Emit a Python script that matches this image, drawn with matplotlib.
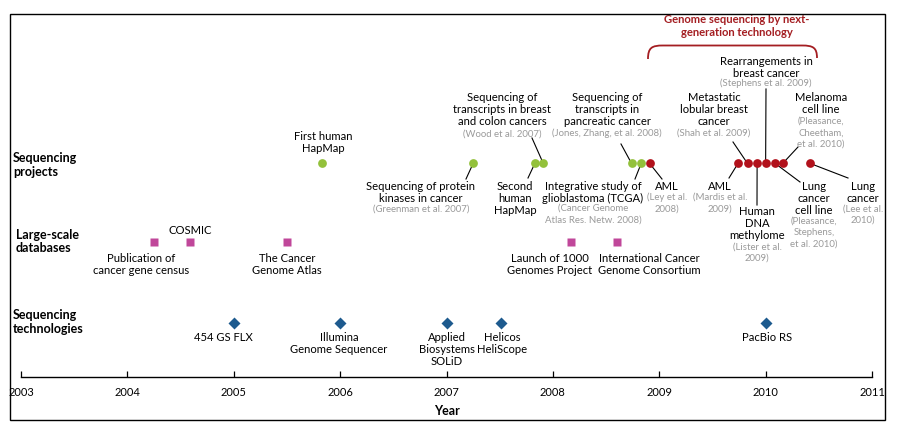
import matplotlib
matplotlib.use("Agg")
import matplotlib.pyplot as plt
from matplotlib.patches import Rectangle
from matplotlib.path import Path
from matplotlib.patches import PathPatch

plt.rcParams['font.family'] = ['Lato', 'DejaVu Sans']

# ---------------- data ----------------
years = [2003, 2004, 2005, 2006, 2007, 2008, 2009, 2010, 2011]

project_dates = [2005.83, 2007.25, 2007.83, 2007.91, 2008.74, 2008.83, 2008.91,
                 2009.74, 2009.83, 2009.92, 2010.00, 2010.09, 2010.16, 2010.42]
project_ngs = [False, False, False, False, False, False, True,
               True, True, True, True, True, True, True]
project_labels = ["First human\nHapMap",
                  "Sequencing of protein\nkinases in cancer",
                  "Second\nhuman\nHapMap",
                  "Sequencing of\ntranscripts in breast\nand colon cancers",
                  "Sequencing of\ntranscripts in\npancreatic cancer",
                  "Integrative study of\nglioblastoma (TCGA)",
                  "AML",
                  "AML",
                  "Metastatic\nlobular breast\ncancer",
                  "Human\nDNA\nmethylome",
                  "Rearrangements in\nbreast cancer",
                  "Lung\ncancer\ncell line",
                  "Melanoma\ncell line",
                  "Lung\ncancer"]
project_cites = ["",
                 "(Greenman et al. 2007)",
                 "",
                 "(Wood et al. 2007)",
                 "(Jones, Zhang, et al. 2008)",
                 "(Cancer Genome\nAtlas Res. Netw. 2008)",
                 "(Ley et al.\n2008)",
                 "(Mardis et al.\n2009)",
                 "(Shah et al. 2009)",
                 "(Lister et al.\n2009)",
                 "(Stephens et al. 2009)",
                 "(Pleasance,\nStephens,\net al. 2010)",
                 "(Pleasance,\nCheetham,\net al. 2010)",
                 "(Lee et al.\n2010)"]

db_dates = [2004.25, 2004.59, 2005.50, 2008.17, 2008.60]
db_labels = ["Publication of\ncancer gene census", "COSMIC", "The Cancer\nGenome Atlas",
             "Launch of 1000\nGenomes Project", "International Cancer\nGenome Consortium"]

tech_dates = [2005.0, 2006.0, 2007.0, 2007.51, 2010.0]
tech_labels = ["454 GS FLX", "Illumina\nGenome Sequencer", "Applied\nBiosystems\nSOLiD",
               "Helicos\nHeliScope", "PacBio RS"]

row_labels = ["Sequencing\nprojects", "Large-scale\ndatabases", "Sequencing\ntechnologies"]
bracket_title = "Genome sequencing by next-\ngeneration technology"

# ---------------- layout (pixel units) ----------------
W, H = 906, 436
X0PX, X1PX = 21, 872
PPY = (X1PX - X0PX) / (years[-1] - years[0])
ROW_Y = {"proj": 163.5, "db": 242, "tech": 323}

GREEN = "#93c13b"
RED = "#b2121c"
MAG = "#c0479a"
BLUE = "#1d5a8e"
GRAY = "#9a9a9a"
TITLE_RED = "#a41e22"

FS_MAIN = 8.1
FS_CITE = 6.9

def yr(px):
    return years[0] + (px - X0PX) / PPY

# label layout for projects: (label x px, first label line y, cite first line y, leader end (x,y) or None)
proj_layout = [
    (323, 136, None, None),
    (421, 186, 209, (466, 179)),
    (515, 186, None, (528, 178)),
    (502, 97, 134, (532, 138)),
    (607, 97, 133, (621, 144)),
    (593, 186, 208.5, (635, 179)),
    (667, 186, 197.5, (662, 179)),
    (720, 186, 197.5, (729, 178)),
    (714, 97, 133, (733, 142)),
    (757, 211, 247, (757, 205)),
    (766, 61.5, 83.5, (766, 89)),
    (814, 186, 221.5, (800, 182)),
    (821, 97, 121.5, (798, 147)),
    (863, 186, 209, (848, 178)),
]
db_layout = [(141, 258), (190, 230), (287, 258), (550, 258), (649, 258)]
tech_layout = [(223, 337), (339, 337), (447, 337), (502, 337), (767, 337)]

LS_MAIN = 12.3
LS_CITE = 11.3

fig = plt.figure(figsize=(W / 100, H / 100), dpi=100)
ax = fig.add_axes([X0PX / W, 1 - 377 / H, (X1PX - X0PX) / W, (377 - 14) / H])
ax.set_xlim(years[0], years[-1])
ax.set_ylim(377, 14)
for s in ["left", "right", "top"]:
    ax.spines[s].set_visible(False)
ax.spines["bottom"].set_linewidth(1.0)
ax.set_yticks([])
ax.set_xticks(years)
ax.set_xticklabels([str(y) for y in years], fontsize=8)
ax.tick_params(axis="x", direction="in", length=4, width=0.9, pad=7)
ax.set_xlabel("Year", fontsize=9, fontweight="bold", labelpad=5)
ax.patch.set_alpha(0)

# frame
fig.add_artist(Rectangle((10 / W, 1 - 420 / H), 875 / W, 406 / H,
                         transform=fig.transFigure, fill=False, lw=1.0, ec="black"))

def block(xpx, y0, text, size, color, ls, weight="normal", ha="center"):
    for i, line in enumerate(text.split("\n")):
        ax.text(yr(xpx), y0 + i * ls, line, ha=ha, va="center", fontsize=size,
                color=color, fontweight=weight, clip_on=False)

# row labels
block(13, 158, row_labels[0], 9, "black", 13.5, "bold", ha="left")
block(16, 234.5, row_labels[1], 9, "black", 13, "bold", ha="left")
block(13, 315, row_labels[2], 9, "black", 13.5, "bold", ha="left")

# projects
for d, ngs, lab, cite, lay in zip(project_dates, project_ngs, project_labels, project_cites, proj_layout):
    lx, ly, cy, lead = lay
    block(lx, ly, lab, FS_MAIN, "black", LS_MAIN)
    if cite:
        block(lx, cy, cite, FS_CITE, GRAY, LS_CITE)
    if lead is not None:
        ax.plot([d, yr(lead[0])], [ROW_Y["proj"], lead[1]], color="black", lw=0.8,
                zorder=2, clip_on=False)
    ax.plot([d], [ROW_Y["proj"]], "o", color=RED if ngs else GREEN, ms=6.3,
            mec="none", zorder=3, clip_on=False)

# databases
for d, lab, (lx, ly) in zip(db_dates, db_labels, db_layout):
    ax.plot([d], [ROW_Y["db"]], "s", color=MAG, ms=5.8, mec="none", zorder=3, clip_on=False)
    block(lx, ly, lab, FS_MAIN, "black", LS_MAIN)

# technologies
for d, lab, (lx, ly) in zip(tech_dates, tech_labels, tech_layout):
    ax.plot([d], [ROW_Y["tech"]], "D", color=BLUE, ms=6.0, mec="none", zorder=3, clip_on=False)
    block(lx, ly, lab, FS_MAIN, "black", LS_MAIN)

# bracket for NGS
bx0, bx1, btop, bbot, r = 648, 817, 45.5, 59, 10
verts = [(yr(bx0), bbot), (yr(bx0), btop + r * 0.2), (yr(bx0 + r * 0.4), btop), (yr(bx0 + r * 1.5), btop),
         (yr(bx1 - r * 1.5), btop), (yr(bx1 - r * 0.4), btop), (yr(bx1), btop + r * 0.2), (yr(bx1), bbot - 1)]
codes = [Path.MOVETO, Path.CURVE4, Path.CURVE4, Path.CURVE4,
         Path.LINETO, Path.CURVE4, Path.CURVE4, Path.CURVE4]
ax.add_patch(PathPatch(Path(verts, codes), fill=False, ec=TITLE_RED, lw=1.3, clip_on=False))
block(737, 19.5, bracket_title, 8.1, TITLE_RED, 13, "bold")

fig.savefig("out.png", dpi=100)
